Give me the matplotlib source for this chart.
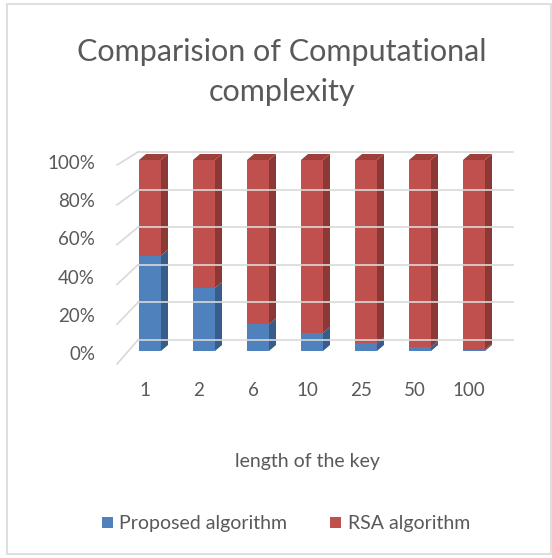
import matplotlib
matplotlib.use("Agg")
import matplotlib.pyplot as plt
from matplotlib.patches import Polygon, Rectangle

key_lengths = ["1", "2", "6", "10", "25", "50", "100"]
proposed = [50, 33, 14, 9.5, 4, 2, 0.7]
rsa = [100 - p for p in proposed]
y_ticks = [0, 20, 40, 60, 80, 100]

TXT = "#595959"
plt.rcParams["font.family"] = ["Lato", "DejaVu Sans"]

fig = plt.figure(figsize=(5.52, 5.58), dpi=100)
# outer chart border
fig.patches.append(Rectangle((7 / 552, 4 / 558), 544 / 552, 550 / 558,
                             transform=fig.transFigure, fill=False,
                             edgecolor="#D9D9D9", linewidth=1.2))

ax = fig.add_axes([117.6 / 552, 1 - 351 / 558, 388.8 / 552, 191 / 558])
ax.set_xlim(-0.6, 6.6)
ax.set_ylim(0, 100)
ax.axis("off")

px_x = 1 / 54.0      # data units per pixel along x
px_y = 100 / 191.0   # data units per pixel along y

# back-wall gridlines + side stubs
for v in y_ticks:
    down = (13 - 8 * v / 100) * px_y
    up = (11 - 3 * v / 100) * px_y
    x0 = (117 - 150) * px_x
    x1 = (138 - 150) * px_x
    x2 = (513 - 150) * px_x
    ax.plot([x0, x1], [v - down, v + up], color="#D9D9D9", lw=1.2, clip_on=False)
    ax.plot([x1, x2], [v + up, v + up], color="#D9D9D9", lw=1.2, clip_on=False)
    ax.text((95 - 150) * px_x, v - 3.5 * px_y, f"{v}%", ha="right", va="center",
            fontsize=13.5, color=TXT)

w = 22 * px_x
dx = 7 * px_x
dy = 6 * px_y
faces = {
    "Proposed algorithm": ("#4F81BD", "#385D8A", "#4A78B0"),
    "RSA algorithm": ("#C0504D", "#8C3836", "#9E3F3C"),
}

xs = range(len(key_lengths))
ax.bar(xs, proposed, width=w, color=faces["Proposed algorithm"][0],
       label="Proposed algorithm", clip_on=False)
ax.bar(xs, rsa, width=w, bottom=proposed, color=faces["RSA algorithm"][0],
       label="RSA algorithm", clip_on=False)

for i in xs:
    for name, lo, hi in [("Proposed algorithm", 0, proposed[i]),
                         ("RSA algorithm", proposed[i], 100)]:
        side = faces[name][1]
        xr = i + w / 2
        ax.add_patch(Polygon([(xr, lo), (xr + dx, lo + dy), (xr + dx, hi + dy), (xr, hi)],
                             closed=True, facecolor=side, edgecolor="none", clip_on=False))
    xl = i - w / 2
    ax.add_patch(Polygon([(xl, 100), (xl + dx, 100 + dy), (xl + w + dx, 100 + dy), (xl + w, 100)],
                         closed=True, facecolor=faces["RSA algorithm"][2],
                         edgecolor="none", clip_on=False))
    ax.text(i - 5 * px_x, -40 * px_y, key_lengths[i], ha="center", va="center",
            fontsize=13.5, color=TXT)

fig.text(307 / 552, 1 - 461 / 558, "length of the key", ha="center", va="center",
         fontsize=14, color=TXT)
fig.text(282 / 552, 1 - 72 / 558, "Comparision of Computational\ncomplexity",
         ha="center", va="center", fontsize=22, color=TXT, linespacing=1.55)

fig.legend(loc="center", bbox_to_anchor=(286 / 552, 1 - 524 / 558), ncol=2,
           frameon=False, fontsize=14, handlelength=0.55, handleheight=0.55,
           handletextpad=0.35, columnspacing=2.2, labelcolor=TXT)

fig.savefig("out.png", dpi=100)
